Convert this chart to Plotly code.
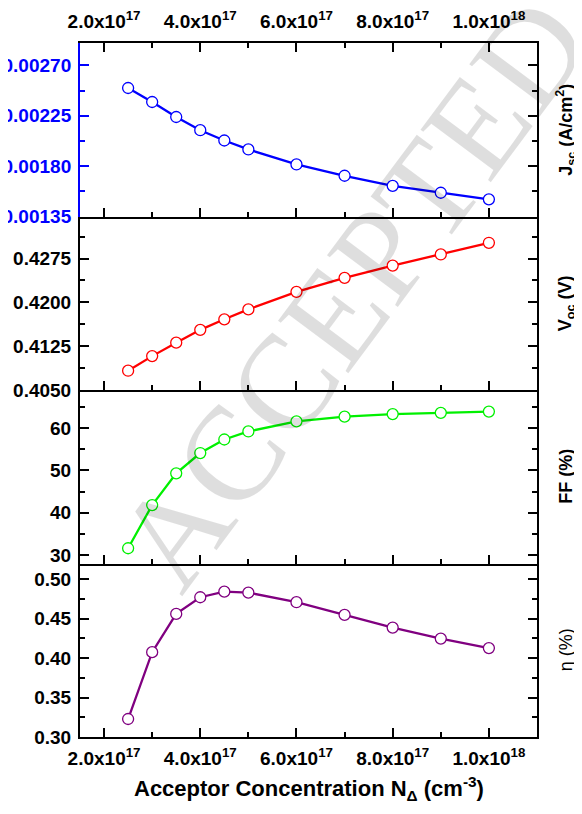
import plotly.graph_objects as go
from plotly.subplots import make_subplots

# ---------------- data ----------------
acceptor_conc = [2.5e17, 3.0e17, 3.5e17, 4.0e17, 4.5e17, 5.0e17, 6.0e17, 7.0e17, 8.0e17, 9.0e17, 1.0e18]
jsc = [0.002498, 0.002373, 0.002239, 0.002121, 0.002029, 0.001949, 0.001815, 0.001714, 0.001624, 0.001562, 0.001503]
voc = [0.4083, 0.4108, 0.4131, 0.4153, 0.4171, 0.4188, 0.4218, 0.4242, 0.4263, 0.4282, 0.4302]
ff = [31.6, 41.8, 49.3, 54.1, 57.3, 59.2, 61.6, 62.7, 63.3, 63.6, 63.9]
eta = [0.3228, 0.4076, 0.4561, 0.4772, 0.4843, 0.4830, 0.4709, 0.4548, 0.4387, 0.4248, 0.4127]

x_tickvals = [2e17, 4e17, 6e17, 8e17, 1e18]
x_ticktext = ["2.0x10<sup>17</sup>", "4.0x10<sup>17</sup>", "6.0x10<sup>17</sup>",
              "8.0x10<sup>17</sup>", "1.0x10<sup>18</sup>"]

panel_titles = ["J<sub>sc</sub> (A/cm<sup>2</sup>)", "V<sub>oc</sub> (V)", "FF (%)", "η (%)"]
x_title = "Acceptor Concentration N<sub>Δ</sub> (cm<sup>-3</sup>)"
watermark = "ACCEPTED"

series = [jsc, voc, ff, eta]
colors = ["#0000ff", "#ff0000", "#00f000", "#800080"]
y_ranges = [[0.00135, 0.0029], [0.405, 0.4347], [28, 69], [0.30, 0.52]]
y_tick0 = [0.00135, 0.405, 30, 0.30]
y_dtick = [0.00045, 0.0075, 10, 0.05]
y_formats = [".5f", ".4f", "d", ".2f"]

FONT = "Liberation Sans, Arial, sans-serif"

fig = make_subplots(rows=4, cols=1, shared_xaxes=True, vertical_spacing=0)

for i, (yv, c) in enumerate(zip(series, colors)):
    fig.add_trace(go.Scatter(
        x=acceptor_conc, y=yv, mode="lines+markers",
        line=dict(color=c, width=2.3),
        marker=dict(symbol="circle", size=11, color="white", line=dict(color=c, width=1.3)),
        showlegend=False, hoverinfo="x+y"), row=i + 1, col=1)

# dummy trace for black right-hand axis of the top panel
fig.add_trace(go.Scatter(x=acceptor_conc, y=jsc, xaxis="x", yaxis="y5", mode="lines",
                         line=dict(color="rgba(0,0,0,0)"), showlegend=False, hoverinfo="skip"))

for i in range(4):
    r = i + 1
    xa = dict(
        range=[1.5e17, 1.1e18], tickmode="array", tickvals=x_tickvals, ticktext=x_ticktext,
        showline=True, linecolor="black", linewidth=2, automargin=False,
        ticks="inside", ticklen=9, tickwidth=2, tickcolor="black",
        minor=dict(tickmode="linear", tick0=0, dtick=1e17, ticks="inside", ticklen=5,
                   tickwidth=2, tickcolor="black"),
        showgrid=False, zeroline=False,
        tickfont=dict(family=FONT, size=19, color="black", weight="bold"),
    )
    if r == 1:
        xa.update(side="top", mirror="ticks", showticklabels=True, ticklabelstandoff=5)
    elif r == 4:
        xa.update(mirror=False, showticklabels=True, ticklabelstandoff=3)
    else:
        xa.update(mirror=False, showticklabels=False)
    fig.update_xaxes(xa, row=r, col=1)

    ycol = "#0000ff" if r == 1 else "black"
    ya = dict(
        range=y_ranges[i], tickmode="linear", tick0=y_tick0[i], dtick=y_dtick[i],
        tickformat=y_formats[i], automargin=False, ticklabelstandoff=3,
        showline=True, linecolor=ycol, linewidth=2,
        ticks="inside", ticklen=9, tickwidth=2, tickcolor=ycol,
        minor=dict(tickmode="linear", tick0=y_tick0[i], dtick=y_dtick[i] / 2, ticks="inside",
                   ticklen=5, tickwidth=2, tickcolor=ycol),
        mirror=False if r == 1 else "ticks",
        showgrid=False, zeroline=False,
        tickfont=dict(family=FONT, size=19, color=ycol, weight="bold"),
    )
    fig.update_yaxes(ya, row=r, col=1)

fig.update_layout(
    yaxis5=dict(
        overlaying="y", side="right", anchor="x", range=y_ranges[0], automargin=False,
        tickmode="linear", tick0=y_tick0[0], dtick=y_dtick[0],
        showline=True, linecolor="black", linewidth=2,
        ticks="inside", ticklen=9, tickwidth=2, tickcolor="black",
        minor=dict(tickmode="linear", tick0=y_tick0[0], dtick=y_dtick[0] / 2, ticks="inside",
                   ticklen=5, tickwidth=2, tickcolor="black"),
        showticklabels=False, showgrid=False, zeroline=False),
)

annotations = []
centers = [0.875, 0.625, 0.375, 0.125]
for i, t in enumerate(panel_titles):
    annotations.append(dict(
        text=t, xref="paper", yref="paper", x=1.0635, y=centers[i],
        xanchor="center", yanchor="middle", textangle=-90, showarrow=False,
        font=dict(family=FONT, size=18, color="black", weight="normal" if i == 3 else "bold")))

annotations.append(dict(
    text=x_title, xref="paper", yref="paper", x=0.5, y=-0.0735,
    xanchor="center", yanchor="middle", showarrow=False,
    font=dict(family=FONT, size=22, color="black", weight="bold")))

annotations.append(dict(
    text=watermark, xref="paper", yref="paper", x=0.595, y=0.64,
    xanchor="center", yanchor="middle", showarrow=False, textangle=-53.3,
    font=dict(family="Liberation Serif, Times New Roman, serif", size=134,
              color="rgba(0,0,0,0.13)")))

# the page body adds an 8px margin, so the figure is 8px smaller and margins shifted
fig.update_layout(
    width=574, height=806,
    margin=dict(l=72, r=45, t=35, b=77, autoexpand=False),
    paper_bgcolor="white", plot_bgcolor="white",
    annotations=annotations,
    font=dict(family=FONT),
)

fig.write_html("out.html")
